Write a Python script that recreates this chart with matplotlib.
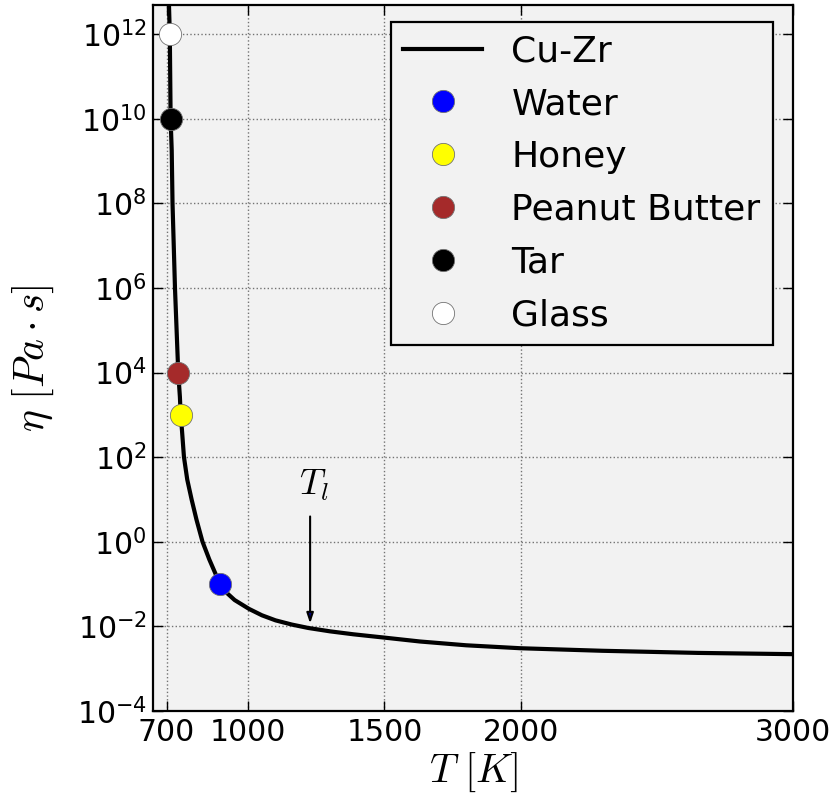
import matplotlib
matplotlib.use("Agg")
import matplotlib.pyplot as plt
import numpy as np

# Cu-Zr viscosity curve: T [K], log10(eta [Pa s])
curve_T = [709, 712, 715, 719, 722, 731, 743, 749, 752, 756.5, 764, 776, 792, 810,
           832, 857, 896, 921, 950, 1003, 1050, 1100, 1160, 1220, 1300, 1386, 1502,
           1630, 1800, 2000, 2300, 2650, 3000]
curve_logeta = [12.69, 12.0, 10.0, 9.26, 8.0, 6.0, 4.0, 3.43, 3.0, 2.65, 2.0, 1.47, 1.0, 0.52,
                0.0, -0.42, -1.0, -1.21, -1.38, -1.59, -1.74, -1.86, -1.96, -2.04, -2.12, -2.19, -2.27,
                -2.36, -2.45, -2.52, -2.58, -2.63, -2.66]

# reference substances
names = ["Water", "Honey", "Peanut Butter", "Tar", "Glass"]
sub_T = [896, 752, 743, 715, 712]
sub_eta = [1e-1, 1e3, 1e4, 1e10, 1e12]
sub_colors = ["#0000ff", "#ffff00", "#a52a2a", "#000000", "#ffffff"]

T_l = 1227

xticks = [700, 1000, 1500, 2000, 3000]
yticks = [1e-4, 1e-2, 1e0, 1e2, 1e4, 1e6, 1e8, 1e10, 1e12]

plt.rcParams["font.family"] = "DejaVu Sans"
plt.rcParams["mathtext.fontset"] = "dejavusans"

fig = plt.figure(figsize=(8.34, 7.96), dpi=100)
ax = fig.add_axes([0.184, 0.107, 0.767, 0.887])
ax.set_facecolor("#f2f2f2")

ax.plot(curve_T, np.power(10.0, curve_logeta), color="k", lw=3, label="Cu-Zr", zorder=3)
for n, t, e, c in zip(names, sub_T, sub_eta, sub_colors):
    ax.plot([t], [e], "o", color=c, ms=16, mec="0.45", mew=0.6, label=n, zorder=4)

ax.annotate("", xy=(T_l, 1e-2), xytext=(T_l, 4.6),
            arrowprops=dict(arrowstyle="-|>,head_length=0.6,head_width=0.2",
                            lw=1.5, color="k", fc="#000080"))
ax.text(1241, 10**1.11, r"$T_l$", fontsize=26, ha="center", va="baseline",
        math_fontfamily="cm")

ax.set_yscale("log")
ax.set_xlim(652, 3000)
ax.set_ylim(1e-4, 5e12)
ax.set_xticks(xticks)
ax.set_xticklabels([str(x) for x in xticks])
ax.set_yticks(yticks)
ax.yaxis.set_minor_locator(matplotlib.ticker.NullLocator())
ax.tick_params(axis="both", which="major", labelsize=21.5, direction="in",
               length=7, width=1, top=True, right=True, pad=5)
ax.grid(True, linestyle=":", color="0.45", lw=1)
for s in ax.spines.values():
    s.set_linewidth(1.6)

ax.set_xlabel(r"$T\ [K]$", fontsize=29, math_fontfamily="cm")
ax.set_ylabel(r"$\eta\ [Pa \cdot s]$", fontsize=30, math_fontfamily="cm")
ax.xaxis.set_label_coords(0.5, -0.057)
ax.yaxis.set_label_coords(-0.152, 0.5)

leg = ax.legend(loc="upper right", bbox_to_anchor=(0.9687, 0.976), borderaxespad=0,
                numpoints=1, fontsize=26, handlelength=2.19, handletextpad=0.8,
                labelspacing=0.52, borderpad=0.35,
                fancybox=False, facecolor="#f2f2f2", edgecolor="k", framealpha=1)
leg.get_frame().set_linewidth(1.6)

fig.savefig("out.png", dpi=100)
